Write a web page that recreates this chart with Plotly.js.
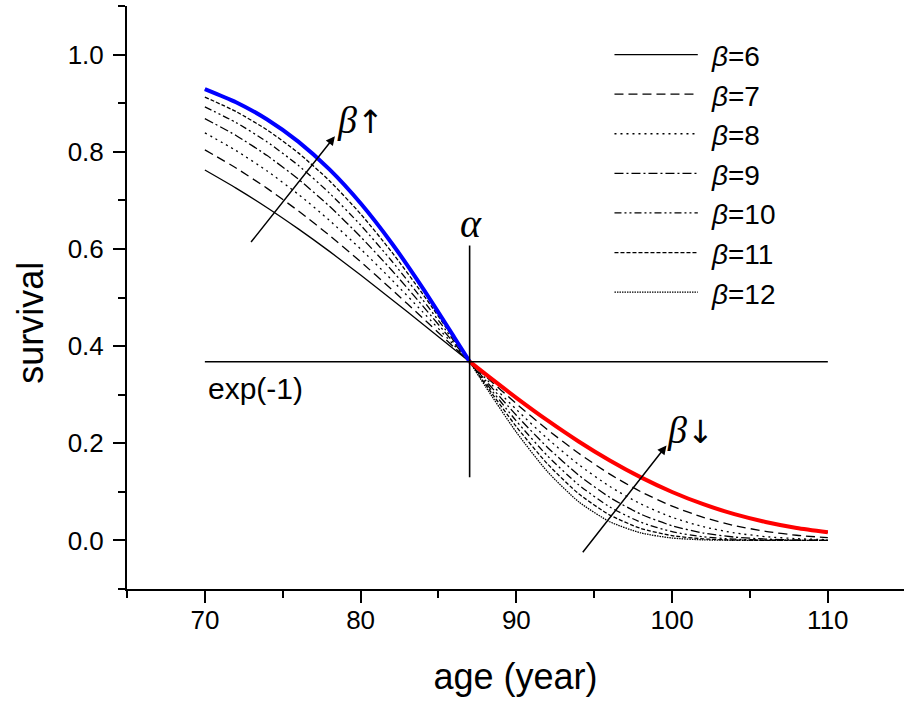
<!DOCTYPE html>
<html>
<head>
<meta charset="utf-8">
<script src="https://cdn.plot.ly/plotly-3.0.1.min.js"></script>
<style>html,body{margin:0;padding:0;background:#fff;}#plot{width:904px;height:702px;}</style>
</head>
<body>
<div id="plot"></div>
<script>
// ---- data ----
const ages = [70,72,74,76,78,80,82,84,86,87,88,90,92,94,96,98,100,102,104,106,108,110];
const betas = [6,7,8,9,10,11,12];
const s6  = [0.7624,0.7252,0.6848,0.6412,0.5949,0.5463,0.4961,0.4448,0.3934,0.3679,0.3427,0.2936,0.2470,0.2037,0.1645,0.1297,0.0997,0.0745,0.0540,0.0380,0.0257,0.0168];
const s7  = [0.8039,0.7665,0.7246,0.6783,0.6278,0.5736,0.5164,0.4574,0.3976,0.3679,0.3385,0.2814,0.2279,0.1793,0.1364,0.1001,0.0706,0.0476,0.0306,0.0186,0.0106,0.0057];
const s8  = [0.8389,0.8025,0.7604,0.7124,0.6587,0.5998,0.5364,0.4699,0.4019,0.3679,0.3343,0.2694,0.2094,0.1561,0.1110,0.0749,0.0475,0.0282,0.0155,0.0078,0.0036,0.0015];
const s9  = [0.8682,0.8335,0.7921,0.7436,0.6878,0.6250,0.5560,0.4823,0.4061,0.3679,0.3301,0.2575,0.1914,0.1344,0.0885,0.0539,0.0301,0.0152,0.0068,0.0027,0.0009,0.0003];
const s10 = [0.8925,0.8601,0.8202,0.7720,0.7149,0.6491,0.5751,0.4946,0.4103,0.3679,0.3259,0.2457,0.1740,0.1144,0.0688,0.0373,0.0179,0.0074,0.0026,0.0007,0.0002,0.0000];
const s11 = [0.9126,0.8827,0.8449,0.7977,0.7402,0.6720,0.5936,0.5067,0.4145,0.3679,0.3218,0.2341,0.1574,0.0961,0.0522,0.0246,0.0098,0.0032,0.0008,0.0002,0.0000,0.0000];
const s12 = [0.9290,0.9019,0.8664,0.8208,0.7636,0.6939,0.6117,0.5188,0.4188,0.3679,0.3176,0.2227,0.1415,0.0796,0.0384,0.0154,0.0049,0.0012,0.0002,0.0000,0.0000,0.0000];
const alpha = 87;          // scale parameter (vertical marker)
const expMinus1 = 0.3679;  // horizontal reference level
const xTickVals = [70,80,90,100,110];
const yTickVals = [0.0,0.2,0.4,0.6,0.8,1.0];

// ---- styles ----
const series = [s6,s7,s8,s9,s10,s11,s12];
const dashes = ["solid","9px,5px","2px,4px","9px,3px,2px,3px","7px,3px,2px,3px,2px,3px","4px,2px","1.5px,1px"];
const FONT = "Liberation Sans, Arial, Helvetica, sans-serif";
const SERIF = "Liberation Serif, Times New Roman, serif";

const traces = betas.map((b,i)=>({
  x: ages, y: series[i], type:'scatter', mode:'lines', name:'β='+b,
  line:{color:'#000', width:1.3, dash:dashes[i], shape:'spline', smoothing:0.6},
  showlegend:false, hoverinfo:'skip'
}));
// highlighted parts: beta=12 below alpha (blue), beta=6 above alpha (red)
const leftIdx = ages.map((a,i)=>i).filter(i=>ages[i]<=alpha);
const rightIdx = ages.map((a,i)=>i).filter(i=>ages[i]>=alpha);
traces.push({x:leftIdx.map(i=>ages[i]), y:leftIdx.map(i=>s12[i]), type:'scatter', mode:'lines',
  line:{color:'#0000ff', width:4, shape:'spline', smoothing:0.6}, showlegend:false, hoverinfo:'skip'});
traces.push({x:rightIdx.map(i=>ages[i]), y:rightIdx.map(i=>s6[i]), type:'scatter', mode:'lines',
  line:{color:'#ff0000', width:4, shape:'spline', smoothing:0.6}, showlegend:false, hoverinfo:'skip'});

// manual legend (long sample lines)
const legX0 = 96.3, legX1 = 101.65, legTextX = 102.35, legTop = 1.0, legStep = 0.0815;
const shapes = [
  {type:'line', xref:'x', yref:'y', x0:ages[0], x1:ages[ages.length-1], y0:expMinus1, y1:expMinus1, line:{color:'#000', width:1.6}},
  {type:'line', xref:'x', yref:'y', x0:alpha, x1:alpha, y0:0.13, y1:0.607, line:{color:'#000', width:1.6}}
];
const annotations = [];
betas.forEach((b,i)=>{
  const yy = legTop - i*legStep;
  shapes.push({type:'line', xref:'x', yref:'y', x0:legX0, x1:legX1, y0:yy, y1:yy, line:{color:'#000', width:1.3, dash:dashes[i]}});
  annotations.push({xref:'x', yref:'y', x:legTextX, y:yy-0.004, text:'<i>β</i>='+b, showarrow:false,
    xanchor:'left', yanchor:'middle', font:{family:FONT, size:28, color:'#000'}});
});
annotations.push(
  {xref:'x', yref:'y', x:70.05, y:0.313, text:'exp(-1)', showarrow:false, xanchor:'left', yanchor:'middle',
   font:{family:FONT, size:30, color:'#000'}},
  {xref:'x', yref:'y', x:alpha+0.1, y:0.652, text:'<i>α</i>', showarrow:false, xanchor:'center', yanchor:'middle',
   font:{family:SERIF, size:40, color:'#000'}},
  {xref:'x', yref:'y', x:80.0, y:0.865, text:'<i>β</i><span style="font-family:DejaVu Sans;font-size:32px">↑</span>', showarrow:false,
   xanchor:'center', yanchor:'middle', font:{family:SERIF, size:38, color:'#000'}},
  {xref:'x', yref:'y', x:101.2, y:0.228, text:'<i>β</i><span style="font-family:DejaVu Sans;font-size:32px">↓</span>', showarrow:false,
   xanchor:'center', yanchor:'middle', font:{family:SERIF, size:38, color:'#000'}},
  {xref:'x', yref:'y', axref:'x', ayref:'y', x:78.35, y:0.832, ax:72.89, ay:0.611, text:'', showarrow:true,
   arrowhead:2, arrowsize:1.2, arrowwidth:1.5, arrowcolor:'#000'},
  {xref:'x', yref:'y', axref:'x', ayref:'y', x:99.64, y:0.1956, ax:94.19, ay:-0.0274, text:'', showarrow:true,
   arrowhead:2, arrowsize:1.2, arrowwidth:1.5, arrowcolor:'#000'},
  {xref:'paper', yref:'paper', x:-0.124, y:0.456, text:'survival', showarrow:false, textangle:-90,
   xanchor:'center', yanchor:'middle', font:{family:FONT, size:36, color:'#000'}}
);

const layout = {
  width:904, height:702,
  margin:{l:127, r:0, t:6, b:113},
  paper_bgcolor:'#fff', plot_bgcolor:'#fff',
  font:{family:FONT, color:'#000'},
  showlegend:false,
  xaxis:{
    range:[65,114.89], showgrid:false, zeroline:false,
    showline:true, linecolor:'#000', linewidth:2,
    ticks:'outside', ticklen:12, tickwidth:2, tickcolor:'#000',
    tickvals:xTickVals, ticktext:xTickVals.map(String),
    tickfont:{family:FONT, size:26, color:'#000'},
    ticklabelstandoff:-5,
    minor:{dtick:5, tick0:65, ticks:'outside', ticklen:7, tickwidth:2, tickcolor:'#000', showgrid:false},
    title:{text:'age (year)', font:{family:FONT, size:36, color:'#000'}, standoff:30},
    automargin:false
  },
  yaxis:{
    range:[-0.1,1.1], showgrid:false, zeroline:false,
    showline:true, linecolor:'#000', linewidth:2,
    ticks:'outside', ticklen:12, tickwidth:2, tickcolor:'#000',
    tickvals:yTickVals, ticktext:yTickVals.map(v=>v.toFixed(1)),
    tickfont:{family:FONT, size:26, color:'#000'},
    ticklabelstandoff:4,
    minor:{dtick:0.1, tick0:0.1, ticks:'outside', ticklen:7, tickwidth:2, tickcolor:'#000', showgrid:false},
    automargin:false
  },
  shapes:shapes,
  annotations:annotations
};
Plotly.newPlot('plot', traces, layout, {staticPlot:true, displayModeBar:false});
</script>
</body>
</html>
